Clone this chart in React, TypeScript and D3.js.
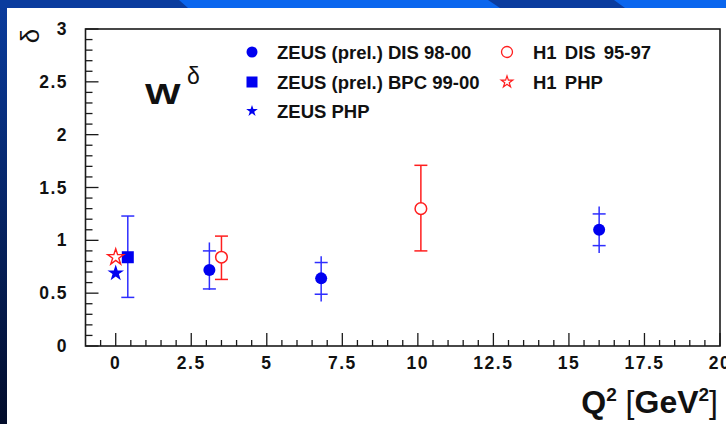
import React from "react";
import * as d3 from "d3";

// ZEUS (prel.) DIS 98-00 : Q^2, delta, stat error, total error up/down
const zeusDisQ2 = [3.1, 6.8, 16.0];
const zeusDisDelta = [0.72, 0.64, 1.10];
const zeusDisStat = [0.18, 0.15, 0.15];
const zeusDisTotUp = [0.26, 0.21, 0.22];
const zeusDisTotDown = [0.19, 0.22, 0.22];

// ZEUS (prel.) BPC 99-00
const zeusBpcQ2 = [0.4];
const zeusBpcDelta = [0.84];
const zeusBpcErrUp = [0.39];
const zeusBpcErrDown = [0.38];

// ZEUS PHP
const zeusPhpQ2 = [0];
const zeusPhpDelta = [0.69];

// H1 DIS 95-97
const h1DisQ2 = [3.5, 10.1];
const h1DisDelta = [0.84, 1.30];
const h1DisErrUp = [0.2, 0.41];
const h1DisErrDown = [0.21, 0.4];

// H1 PHP
const h1PhpQ2 = [0];
const h1PhpDelta = [0.84];

const xTickLabels = ["0", "2.5", "5", "7.5", "10", "12.5", "15", "17.5", "20"];
const yTickLabels = ["0", "0.5", "1", "1.5", "2", "2.5", "3"];

const legendLeft = ["ZEUS (prel.) DIS 98-00", "ZEUS (prel.) BPC 99-00", "ZEUS PHP"];
const legendRight = ["H1 DIS 95-97", "H1 PHP"];

const W = 726;
const H = 424;
const BLUE = "#0000f0";
const BLUE_LINE = "#2e2eff";
const RED = "#ff1e1e";
const FONT = "'Liberation Sans', Arial, Helvetica, sans-serif";

export default function App() {
  const x = d3.scaleLinear().domain([-1, 20]).range([85.5, 720]);
  const y = d3.scaleLinear().domain([0, 3]).range([346, 29]);

  const star = (size: number) => d3.symbol().type(d3.symbolStar).size(size)() as string;
  const xMinor = d3.range(-0.5, 20.01, 0.5);
  const yMinor = d3.range(0, 3.001, 0.1);

  const capW = 6.5;

  return (
    <svg
      width={W}
      height={H}
      style={{ position: "absolute", left: 0, top: 0, display: "block" }}
      xmlns="http://www.w3.org/2000/svg"
    >
      <defs>
        <linearGradient id="sideGrad" x1="0" y1="0" x2="0" y2="1">
          <stop offset="0" stopColor="#0a3c9e" />
          <stop offset="1" stopColor="#020c2a" />
        </linearGradient>
      </defs>

      {/* slide background */}
      <rect x={0} y={0} width={W} height={H} fill="#ffffff" />
      <rect x={0} y={0} width={7} height={H} fill="url(#sideGrad)" />
      <rect x={0} y={0} width={W} height={8} fill="#0a3c9e" />
      <polygon points="179,0 488,0 500,8 188,8" fill="#0a66ee" />
      <polygon points="614,0 726,0 726,8 625,8" fill="#0a66ee" />

      {/* frame */}
      <rect
        x={x(-1)}
        y={y(3)}
        width={x(20) - x(-1)}
        height={y(0) - y(3)}
        fill="none"
        stroke="#1a1a1a"
        strokeWidth={1.6}
      />

      {/* x ticks */}
      {xMinor.map((v, i) => {
        const major = Math.abs(v / 2.5 - Math.round(v / 2.5)) < 1e-6;
        return (
          <line
            key={"xt" + i}
            x1={x(v)}
            x2={x(v)}
            y1={y(0)}
            y2={y(0) - (major ? 13 : 6)}
            stroke="#1a1a1a"
            strokeWidth={1.3}
          />
        );
      })}
      {/* y ticks */}
      {yMinor.map((v, i) => {
        const major = Math.abs(v / 0.5 - Math.round(v / 0.5)) < 1e-6;
        return (
          <line
            key={"yt" + i}
            x1={x(-1)}
            x2={x(-1) + (major ? 13 : 7)}
            y1={y(v)}
            y2={y(v)}
            stroke="#1a1a1a"
            strokeWidth={1.3}
          />
        );
      })}

      {/* tick labels */}
      {xTickLabels.map((t) => (
        <text
          key={"xl" + t}
          x={x(+t)}
          y={368.5}
          textAnchor="middle"
          fontFamily={FONT}
          fontWeight="bold"
          fontSize={17.5}
          letterSpacing={1.5}
          fill="#111"
        >
          {t}
        </text>
      ))}
      {yTickLabels.map((t) => (
        <text
          key={"yl" + t}
          x={68}
          y={y(+t) + 6}
          textAnchor="end"
          fontFamily={FONT}
          fontWeight="bold"
          fontSize={17.5}
          letterSpacing={1.5}
          fill="#111"
        >
          {t}
        </text>
      ))}

      {/* axis titles */}
      <text
        transform="translate(39,36) rotate(-90)"
        textAnchor="middle"
        fontFamily={FONT}
        fontSize={26}
        fill="#111"
      >
        δ
      </text>
      <text x={718} y={413} textAnchor="end" fontFamily={FONT} fontSize={32} fill="#111">
        <tspan fontWeight="bold">Q</tspan>
        <tspan fontWeight="bold" fontSize={19} dy={-12}>2</tspan>
        <tspan dy={12}> [</tspan>
        <tspan fontWeight="bold">GeV</tspan>
        <tspan fontWeight="bold" fontSize={19} dy={-12}>2</tspan>
        <tspan dy={12}>]</tspan>
      </text>

      {/* W^delta */}
      <g transform="translate(145,103.5) scale(1.3,1)">
        <text x={0} y={0} fontFamily={FONT} fontWeight="bold" fontSize={29} fill="#111">
          W
        </text>
      </g>
      <text x={187} y={84} fontFamily={FONT} fontSize={23} fill="#111">
        δ
      </text>

      {/* ZEUS DIS error bars: total line with stat ticks */}
      {zeusDisQ2.map((q, i) => (
        <g key={"zd" + i} stroke={BLUE_LINE} strokeWidth={1.5}>
          <line
            x1={x(q)}
            x2={x(q)}
            y1={y(zeusDisDelta[i] + zeusDisTotUp[i])}
            y2={y(zeusDisDelta[i] - zeusDisTotDown[i])}
          />
          <line
            x1={x(q) - capW}
            x2={x(q) + capW}
            y1={y(zeusDisDelta[i] + zeusDisStat[i])}
            y2={y(zeusDisDelta[i] + zeusDisStat[i])}
          />
          <line
            x1={x(q) - capW}
            x2={x(q) + capW}
            y1={y(zeusDisDelta[i] - zeusDisStat[i])}
            y2={y(zeusDisDelta[i] - zeusDisStat[i])}
          />
        </g>
      ))}

      {/* ZEUS BPC error bars */}
      {zeusBpcQ2.map((q, i) => (
        <g key={"zb" + i} stroke={BLUE_LINE} strokeWidth={1.5}>
          <line
            x1={x(q)}
            x2={x(q)}
            y1={y(zeusBpcDelta[i] + zeusBpcErrUp[i])}
            y2={y(zeusBpcDelta[i] - zeusBpcErrDown[i])}
          />
          <line
            x1={x(q) - capW}
            x2={x(q) + capW}
            y1={y(zeusBpcDelta[i] + zeusBpcErrUp[i])}
            y2={y(zeusBpcDelta[i] + zeusBpcErrUp[i])}
          />
          <line
            x1={x(q) - capW}
            x2={x(q) + capW}
            y1={y(zeusBpcDelta[i] - zeusBpcErrDown[i])}
            y2={y(zeusBpcDelta[i] - zeusBpcErrDown[i])}
          />
        </g>
      ))}

      {/* H1 DIS error bars */}
      {h1DisQ2.map((q, i) => (
        <g key={"hd" + i} stroke={RED} strokeWidth={1.5}>
          <line
            x1={x(q)}
            x2={x(q)}
            y1={y(h1DisDelta[i] + h1DisErrUp[i])}
            y2={y(h1DisDelta[i] - h1DisErrDown[i])}
          />
          <line
            x1={x(q) - capW}
            x2={x(q) + capW}
            y1={y(h1DisDelta[i] + h1DisErrUp[i])}
            y2={y(h1DisDelta[i] + h1DisErrUp[i])}
          />
          <line
            x1={x(q) - capW}
            x2={x(q) + capW}
            y1={y(h1DisDelta[i] - h1DisErrDown[i])}
            y2={y(h1DisDelta[i] - h1DisErrDown[i])}
          />
        </g>
      ))}

      {/* markers */}
      {zeusDisQ2.map((q, i) => (
        <circle key={"zdm" + i} cx={x(q)} cy={y(zeusDisDelta[i])} r={6} fill={BLUE} />
      ))}
      {zeusBpcQ2.map((q, i) => (
        <rect key={"zbm" + i} x={x(q) - 6} y={y(zeusBpcDelta[i]) - 6} width={12} height={12} fill={BLUE} />
      ))}
      {h1DisQ2.map((q, i) => (
        <circle
          key={"hdm" + i}
          cx={x(q)}
          cy={y(h1DisDelta[i])}
          r={5.8}
          fill="#fff"
          stroke={RED}
          strokeWidth={1.5}
        />
      ))}
      {h1PhpQ2.map((q, i) => (
        <path
          key={"hpm" + i}
          d={star(80)}
          transform={`translate(${x(q)},${y(h1PhpDelta[i])})`}
          fill="#fff"
          stroke={RED}
          strokeWidth={1.4}
        />
      ))}
      {zeusPhpQ2.map((q, i) => (
        <path
          key={"zpm" + i}
          d={star(85)}
          transform={`translate(${x(q)},${y(zeusPhpDelta[i])})`}
          fill={BLUE}
        />
      ))}

      {/* legend */}
      <circle cx={252} cy={52} r={5.5} fill={BLUE} />
      <rect x={246.5} y={76.5} width={11} height={11} fill={BLUE} />
      <path d={star(42)} transform="translate(252,111)" fill={BLUE} />
      <circle cx={507} cy={52} r={5.5} fill="#fff" stroke={RED} strokeWidth={1.3} />
      <path d={star(42)} transform="translate(507,82)" fill="#fff" stroke={RED} strokeWidth={1.2} />
      {legendLeft.map((t, i) => (
        <text
          key={"ll" + i}
          x={277}
          y={59 + i * 29.5}
          fontFamily={FONT}
          fontWeight="bold"
          fontSize={18.5}
          fill="#111"
        >
          {t}
        </text>
      ))}
      {legendRight.map((t, i) => (
        <text
          key={"lr" + i}
          x={533}
          y={59 + i * 29.5}
          fontFamily={FONT}
          fontWeight="bold"
          fontSize={18.5}
          wordSpacing={3}
          fill="#111"
        >
          {t}
        </text>
      ))}
    </svg>
  );
}
